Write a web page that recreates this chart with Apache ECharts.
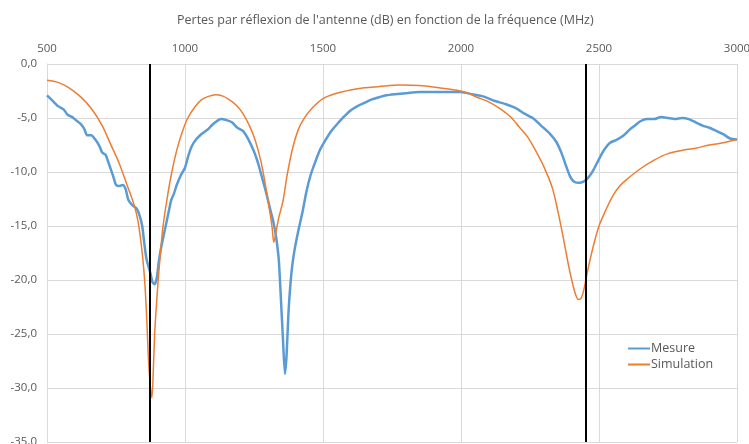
<!DOCTYPE html>
<html>
<head>
<meta charset="utf-8">
<script src="https://cdn.jsdelivr.net/npm/echarts@6/dist/echarts.min.js"></script>
<style>
  html, body { margin: 0; padding: 0; background: #fff; }
  #chart { width: 749px; height: 444px; }
</style>
</head>
<body>
<div id="chart"></div>
<script>
// fréquences (MHz) et pertes (dB)
let mesureFreq = [500,520,540,560,575,590,605,620,635,645,660,675,690,700,712,725,740,750,760,775,785,795,810,825,835,845,852,860,868,875,882,890,898,905,912,920,930,940,950,960,970,985,1000,1012,1025,1040,1055,1070,1085,1100,1115,1130,1150,1170,1190,1210,1230,1250,1265,1280,1295,1310,1320,1330,1340,1348,1355,1362,1368,1375,1385,1395,1410,1425,1440,1455,1470,1490,1510,1530,1550,1575,1600,1625,1650,1675,1700,1730,1760,1800,1850,1900,1950,2000,2040,2080,2120,2160,2200,2230,2260,2290,2320,2345,2365,2380,2395,2410,2430,2450,2465,2480,2500,2520,2540,2565,2590,2610,2630,2650,2675,2700,2725,2750,2775,2800,2825,2850,2875,2900,2925,2950,2975,3000];
let mesureDb = [-2.9,-3.4,-3.9,-4.2,-4.7,-4.9,-5.2,-5.5,-6.0,-6.6,-6.6,-7.0,-7.6,-8.2,-8.4,-9.3,-10.4,-11.2,-11.3,-11.2,-11.6,-12.6,-13.1,-13.4,-14.0,-15.0,-16.5,-18.0,-18.8,-19.4,-20.2,-20.4,-19.8,-18.3,-17.2,-16.2,-15.0,-13.8,-12.6,-12.0,-11.2,-10.3,-9.6,-8.5,-7.6,-7.0,-6.6,-6.3,-6.0,-5.6,-5.3,-5.1,-5.2,-5.4,-5.9,-6.2,-7.0,-8.1,-9.2,-10.6,-12.0,-13.6,-14.6,-16.0,-18.2,-22.0,-25.5,-28.7,-27.0,-23.0,-19.5,-17.5,-15.5,-13.8,-11.8,-10.3,-9.2,-7.9,-7.0,-6.2,-5.6,-4.9,-4.3,-3.9,-3.6,-3.3,-3.1,-2.9,-2.8,-2.7,-2.6,-2.6,-2.6,-2.6,-2.8,-3.0,-3.4,-3.7,-4.1,-4.6,-5.0,-5.7,-6.4,-7.2,-8.3,-9.4,-10.4,-10.9,-11.0,-10.8,-10.4,-9.8,-8.8,-7.9,-7.3,-7.0,-6.6,-6.1,-5.7,-5.3,-5.1,-5.1,-4.9,-5.0,-5.1,-5.0,-5.1,-5.4,-5.7,-5.9,-6.2,-6.5,-6.9,-7.0];

let simFreq = [500,540,580,620,660,700,730,760,790,815,830,845,855,862,868,875,880,885,890,896,902,910,920,935,950,970,990,1010,1035,1060,1085,1110,1135,1160,1185,1210,1235,1255,1275,1290,1305,1315,1322,1330,1340,1355,1370,1390,1410,1430,1460,1500,1550,1600,1650,1700,1780,1850,1920,1980,2020,2060,2100,2140,2180,2210,2240,2270,2300,2330,2350,2370,2390,2410,2425,2435,2445,2460,2480,2500,2525,2550,2575,2600,2650,2700,2750,2800,2850,2900,2950,3000];
let simDb = [-1.5,-1.7,-2.2,-3.0,-4.1,-5.7,-7.4,-9.1,-11.2,-13.0,-14.6,-17.5,-20.5,-24.0,-27.5,-30.0,-30.9,-28.5,-25.0,-22.5,-20.3,-17.8,-15.1,-12.5,-10.3,-8.0,-6.3,-5.0,-4.0,-3.3,-3.0,-2.85,-2.95,-3.3,-3.8,-4.6,-5.8,-7.1,-9.0,-11.0,-13.3,-15.0,-16.5,-15.5,-14.2,-12.7,-10.3,-7.8,-6.1,-5.1,-4.1,-3.2,-2.7,-2.4,-2.2,-2.1,-1.95,-2.0,-2.2,-2.4,-2.65,-3.1,-3.5,-4.1,-4.9,-5.8,-6.7,-8.0,-9.5,-11.4,-13.5,-16.0,-18.7,-20.9,-21.8,-21.7,-20.9,-19.0,-16.8,-15.0,-13.5,-12.2,-11.3,-10.7,-9.7,-8.9,-8.3,-8.0,-7.8,-7.5,-7.3,-7.0];

// fréquences de travail (traits verticaux)
let repereFreq = [872, 2452];

let gris = '#595959';
let police = 'Open Sans';

function toPairs(xs, ys){
    let out = [];
    for (let i = 0; i < xs.length; i++) out.push([xs[i], ys[i]]);
    return out;
}

var myChart = echarts.init(document.getElementById('chart'));

var option = {
    animation: false,
    title: {
        text: "Pertes par réflexion de l'antenne (dB) en fonction de la fréquence (MHz)",
        left: 172,
        top: 9,
        textStyle: { color: gris, fontSize: 12.5, fontWeight: 'normal', fontFamily: police }
    },
    legend: {
        orient: 'vertical',
        left: 623,
        top: 337,
        itemGap: 3,
        itemWidth: 22,
        itemHeight: 10,
        icon: 'path://M0,4 L22,4 L22,6 L0,6 Z',
        textStyle: { color: gris, fontSize: 12.5, fontFamily: police, padding: [0, 0, 0, -4] },
        data: ['Mesure', 'Simulation']
    },
    grid: { left: 47, right: 12, top: 64, bottom: 2, containLabel: false, outerBoundsMode: 'none' },
    xAxis: {
        type: 'value',
        position: 'top',
        min: 500, max: 3000, interval: 500,
        axisLine: { show: false },
        axisTick: { show: false },
        axisLabel: {
            color: gris, fontSize: 11.5, fontFamily: police, margin: 9,
            formatter: function(v){ return String(v); }
        },
        splitLine: { show: true, lineStyle: { color: '#d9d9d9', width: 1 } }
    },
    yAxis: {
        type: 'value',
        min: -35, max: 0, interval: 5,
        axisLine: { show: true, lineStyle: { color: '#d9d9d9' } },
        axisTick: { show: false },
        axisLabel: {
            color: gris, fontSize: 11.5, fontFamily: police, margin: 10,
            formatter: function(v){ return v.toFixed(1).replace('.', ','); }
        },
        splitLine: { show: true, lineStyle: { color: '#d9d9d9', width: 1 } }
    },
    series: [{
        name: 'Mesure',
        type: 'line',
        data: toPairs(mesureFreq, mesureDb),
        showSymbol: false,
        smooth: 0.2,
        lineStyle: { color: '#5b9bd5', width: 2.5 },
        itemStyle: { color: '#5b9bd5' },
        z: 3
    }, {
        name: 'Simulation',
        type: 'line',
        data: toPairs(simFreq, simDb),
        showSymbol: false,
        smooth: 0.3,
        lineStyle: { color: '#ed7d31', width: 1.5 },
        itemStyle: { color: '#ed7d31' },
        z: 4,
        markLine: {
            silent: true,
            symbol: ['none', 'none'],
            label: { show: false },
            lineStyle: { color: '#000', width: 2, type: 'solid' },
            data: repereFreq.map(function(f){ return { xAxis: f }; })
        }
    }]
};

myChart.setOption(option);
</script>
</body>
</html>
